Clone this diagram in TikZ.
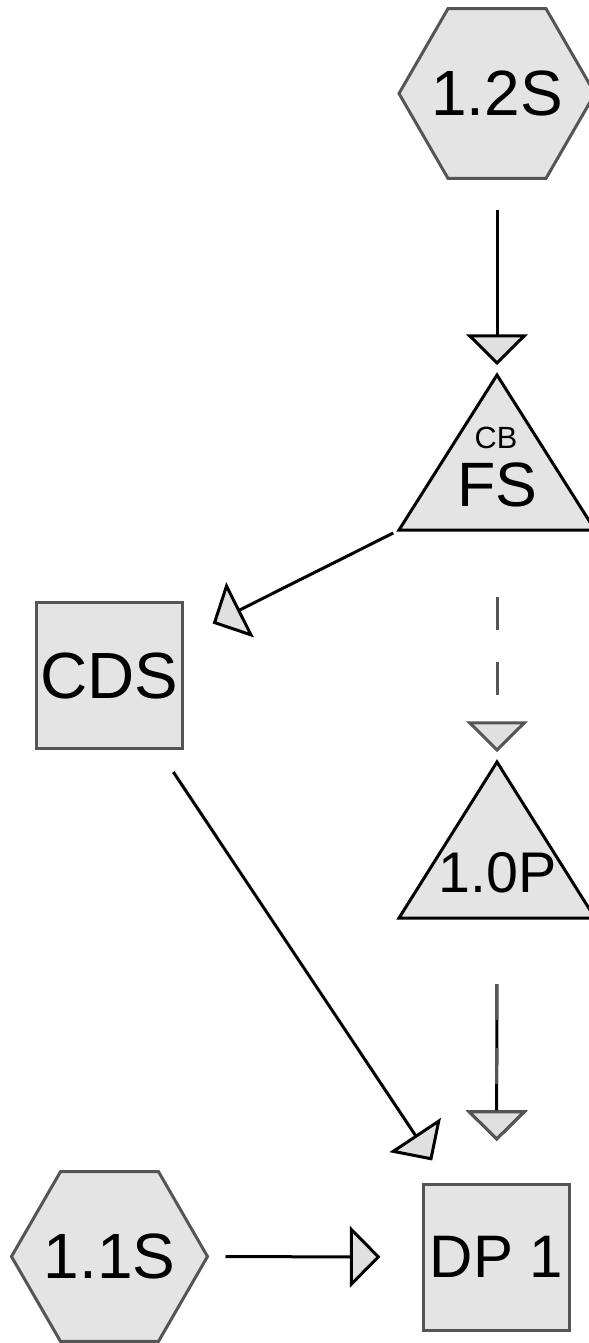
\documentclass[tikz,border=0pt]{standalone}
\usepackage{fontspec}
\setmainfont{Liberation Sans}
\usetikzlibrary{arrows.meta,shapes.geometric,calc}

\definecolor{shapefill}{HTML}{E4E4E4}
\definecolor{tipfill}{HTML}{E0E0E0}
\definecolor{edgegray}{HTML}{555555}

\tikzset{
  hexnode/.style={regular polygon, regular polygon sides=6, minimum size=147pt,
    inner sep=0pt, draw=edgegray, fill=shapefill, line width=2.25pt,
    font=\fontsize{48}{54}\selectfont},
  boxnode/.style={rectangle, minimum width=109.5pt, minimum height=109.5pt,
    inner sep=0pt, draw=edgegray, fill=shapefill, line width=2.25pt},
  trishape/.style={draw=black, fill=shapefill, line width=2.25pt, line join=miter},
  link/.style={line width=2.25pt, shorten <=87pt, shorten >=87pt,
    -{Triangle[length=23pt, width=46pt, fill=tipfill]}},
}

\begin{document}
\begin{tikzpicture}[x=0.75pt, y=-0.75pt]
  \useasboundingbox (0,0) rectangle (589,1343);

  % Sources (text kept out of the size computation)
  \node[hexnode] (S12) at (497,93.5) {\makebox[0pt]{1.2S}};
  \node[hexnode] (S11) at (109.5,1256.5) {\makebox[0pt]{1.1S}};

  % Boxes
  \node[boxnode, font=\fontsize{49}{55}\selectfont] (CDS) at (109,675.5) {CDS};
  \node[boxnode, font=\fontsize{45}{50}\selectfont] (DP1) at (496.5,1257) {DP 1};

  % Triangles
  \coordinate (FS) at (497,481);
  \coordinate (P10) at (497,868);
  \draw[trishape] ($(FS)+(0,-106)$) -- ($(FS)+(-98,49)$) -- ($(FS)+(98,49)$) -- cycle;
  \draw[trishape] ($(P10)+(0,-106)$) -- ($(P10)+(-98,50)$) -- ($(P10)+(98,50)$) -- cycle;
  \node[inner sep=0pt, font=\fontsize{23}{25}\selectfont] (CBtext) at (496,437.5) {CB};
  \node[inner sep=0pt, font=\fontsize{47}{52}\selectfont] (FStext) at (497.5,484.5) {FS};
  \node[inner sep=0pt, font=\fontsize{43}{48}\selectfont] (P10text) at (497.5,872.5) {1.0P};

  % Connectors
  \draw[link] (S12.center) -- (FS);
  \draw[link] (FS) -- (CDS.center);
  \draw[link, edgegray, dash pattern=on 24.75pt off 24pt] (FS) -- (P10);
  \draw[link] (CDS.center) -- (DP1.center);
  \draw[link] (P10) -- (DP1.center);
  \draw[link, edgegray, dash pattern=on 27pt off 21pt] (P10) -- (DP1.center);
  \draw[link] (S11.center) -- (DP1.center);
\end{tikzpicture}
\end{document}
